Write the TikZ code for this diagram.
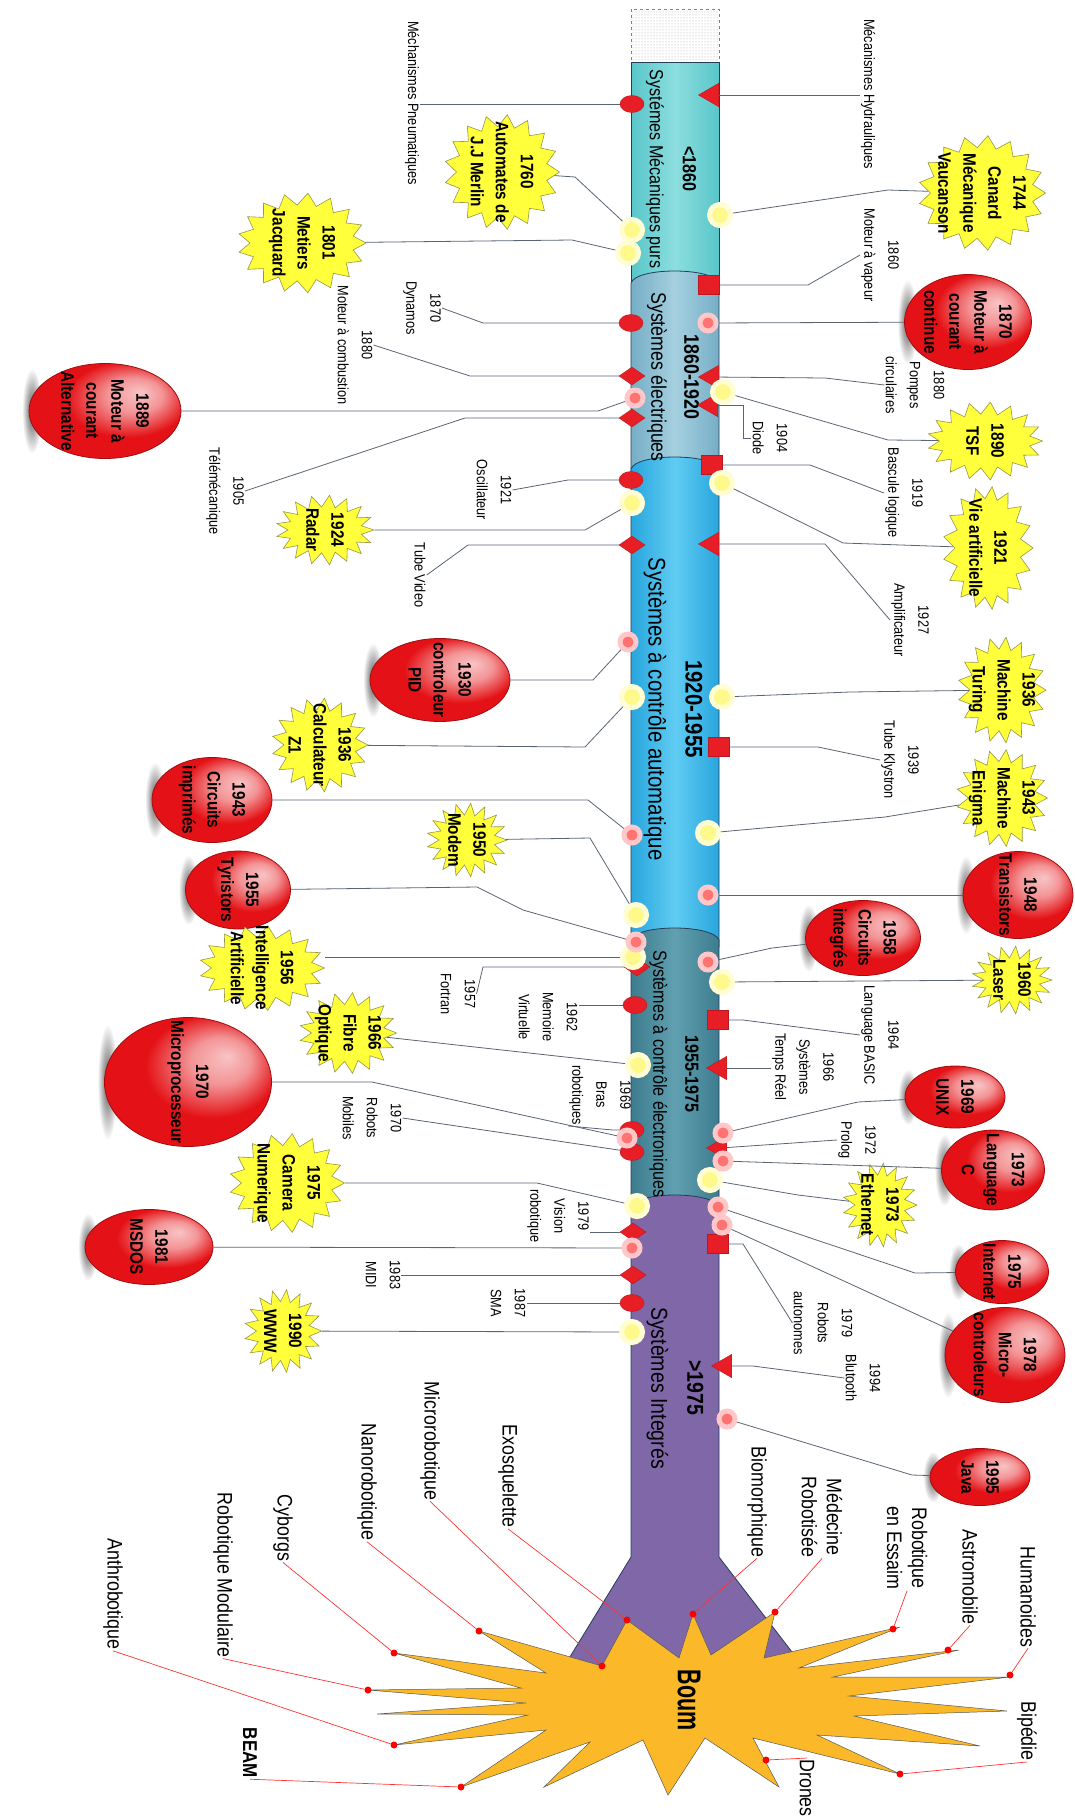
\documentclass[tikz,border=0pt]{standalone}
\usepackage{fontspec}
\setmainfont{Liberation Sans}[FakeStretch=0.85]
\newfontfamily\boumfont{Liberation Sans}[FakeStretch=0.65]
\usetikzlibrary{shapes.geometric,shapes.symbols,patterns,fadings}

\definecolor{mkred}{RGB}{232,30,38}
\definecolor{ballred}{RGB}{228,18,22}
\definecolor{staryel}{RGB}{255,255,60}
\definecolor{staredge}{RGB}{150,150,70}
\definecolor{boumor}{RGB}{251,184,41}
\definecolor{linkgray}{RGB}{90,100,115}
\definecolor{tubeedge}{RGB}{35,62,90}
\definecolor{purp}{RGB}{128,103,168}
\definecolor{secAl}{RGB}{88,198,202}
\definecolor{secAm}{RGB}{140,222,222}
\definecolor{secBl}{RGB}{118,174,198}
\definecolor{secBm}{RGB}{165,208,224}
\definecolor{secCl}{RGB}{40,166,222}
\definecolor{secCm}{RGB}{96,204,242}
\definecolor{secDl}{RGB}{60,124,142}
\definecolor{secDm}{RGB}{96,160,176}

\tikzfading[name=fuzzy, inner color=transparent!10, outer color=transparent!100]

\pgfdeclareradialshading{redball}{\pgfpoint{12bp}{10bp}}{color(0bp)=(ballred!25!white); color(9bp)=(ballred!45!white); color(20bp)=(ballred); color(42bp)=(ballred); color(50bp)=(ballred!75!black)}

% one slice of the tube, arc on top
\newcommand{\tubesec}[5]{
  \draw[tubesty, left color=#3, right color=#5, middle color=#4]
    (631,#1+7) .. controls (636,#1-9) and (713,#1-9) .. (719,#1+7) -- (719,#2+14) -- (631,#2+14) -- cycle;
}

% red ball with its shadow
\newcommand{\redball}[6]{
  \fill[black!75, path fading=fuzzy] (#2-#4/2+3,#3) ellipse ({10} and {#5*0.45});
  \node[ballsty, minimum width=#5pt, minimum height=#4pt] (#1) at (#2,#3) {};
  \node[balltxt] (#1t) at (#1) {#6};
}

% yellow star
\newcommand{\yelstar}[6]{
  \node[starsty, minimum width=#5pt, minimum height=#4pt] (#1) at (#2,#3) {};
  \node[startxt] (#1t) at (#1) {#6};
}

\begin{document}
\begin{tikzpicture}[
  x=1pt, y=-1pt,
  tubesty/.style={draw=tubeedge, line width=0.8pt},
  ballsty/.style={ellipse, rotate=-90, draw=ballred!70!black, line width=0.8pt, shading=redball, inner sep=0pt},
  balltxt/.style={rotate=-90, align=center, font=\fontsize{18}{25}\selectfont\bfseries, inner sep=0pt},
  starsty/.style={starburst, rotate=-90, starburst points=17, starburst point height=12pt, random starburst=0, fill=staryel, draw=staredge, line width=0.6pt, inner sep=0pt},
  startxt/.style={rotate=-90, align=center, font=\fontsize{18}{25}\selectfont\bfseries, inner sep=0pt},
  lbl/.style={rotate=-90, align=center, font=\fontsize{15}{24}\selectfont, inner sep=1pt},
  blbl/.style={rotate=-90, align=center, font=\fontsize{21}{25}\selectfont, inner sep=1pt},
  sectxt/.style={rotate=-90, align=center},
  mcirc/.style={ellipse, fill=mkred, draw=mkred!80!black, line width=0.4pt, minimum width=24pt, minimum height=17pt, inner sep=0pt},
  mdiam/.style={diamond, fill=mkred, draw=mkred!80!black, line width=0.4pt, minimum width=26pt, minimum height=18pt, inner sep=0pt},
  mtri/.style={regular polygon, regular polygon sides=3, shape border rotate=90, fill=mkred, draw=mkred!80!black, line width=0.4pt, minimum size=27pt, inner sep=0pt},
  msq/.style={rectangle, fill=mkred, draw=mkred!80!black, line width=0.4pt, minimum width=21pt, minimum height=19pt, inner sep=0pt},
  glowy/.style={circle, fill=yellow!45!white, draw=yellow!18!white, line width=5pt, minimum size=21pt, inner sep=0pt},
  glowp/.style={circle, fill=red!55!white, draw=red!22!white, line width=5pt, minimum size=16pt, inner sep=0pt},
  link/.style={draw=linkgray, line width=0.8pt},
  redlink/.style={draw=red!80, line width=0.7pt},
  tipdot/.style={circle, fill=red, minimum size=7pt, inner sep=0pt}]

\useasboundingbox (0,0) rectangle (1075,1818);

% the tube
\draw[gray, dashed, pattern=dots, pattern color=gray!70] (631,9) rectangle (719,62);
\draw[tubesty, left color=secAl, right color=secAl, middle color=secAm] (631,62) rectangle (719,290);
\tubesec{276}{462}{secBl}{secBm}{secBl}
\tubesec{462}{933}{secCl}{secCm}{secCl}
\tubesec{933}{1200}{secDl}{secDm}{secDl}
\draw[tubesty, fill=purp] (631,1207) .. controls (636,1191) and (713,1191) .. (719,1207)
  -- (719,1557) -- (802,1665) -- (565,1665) -- (631,1557) -- cycle;

% Boum
\filldraw[fill=boumor, draw=gray!70!black, line width=0.5pt]
  (479,1631) -- (602,1666) -- (627,1620) -- (679,1658) -- (693,1614) -- (711,1655)
  -- (775,1612) -- (764,1658) -- (900,1627) -- (799,1668) -- (959,1650) -- (833,1677)
  -- (1010,1677) -- (849,1696) -- (1007,1711) -- (854,1716) -- (980,1746) -- (817,1735)
  -- (900,1774) -- (753,1738) -- (779,1787) -- (705,1738) -- (668,1795) -- (643,1740)
  -- (544,1787) -- (590,1742) -- (461,1787) -- (546,1730) -- (394,1745) -- (528,1715)
  -- (377,1714) -- (526,1703) -- (368,1690) -- (521,1688) -- (394,1653) -- (546,1673)
  -- cycle;
\node[rotate=-90, font=\boumfont\fontsize{33}{35}\selectfont\bfseries] (boum) at (689,1700) {Boum};

% periods
\node[sectxt, font=\fontsize{19}{33}\selectfont] (sec1t) at (671,169) {{\bfseries <1860}\\Systémes Mécaniques purs};
\node[sectxt, font=\fontsize{21}{33}\selectfont] (sec2t) at (673,377) {{\bfseries 1860-1920}\\Systèmes électriques};
\node[sectxt, font=\fontsize{24}{37}\selectfont] (sec3t) at (673,709) {{\bfseries 1920-1955}\\Systèmes à contrôle automatique};
\node[sectxt, font=\fontsize{19}{32}\selectfont] (sec4t) at (674,1074) {{\bfseries 1955-1975}\\Systèmes à contrôle électroniques};
\node[sectxt, font=\fontsize{23}{36}\selectfont] (sec5t) at (675,1388) {{\bfseries >1975}\\Systèmes Integrés};

% markers on the tube
\node[mcirc] (mc-pneu) at (632,104) {};
\node[mcirc] (mc-dyn) at (631,323) {};
\node[mcirc] (mc-osc) at (631,480) {};
\node[mcirc] (mc-mem) at (635,1005) {};
\node[mcirc] (mc-bras) at (632,1130) {};
\node[mcirc] (mc-mob) at (632,1152) {};
\node[mcirc] (mc-sma) at (632,1303) {};
\node[mdiam] (md-comb) at (632,376) {};
\node[mdiam] (md-tele) at (632,418) {};
\node[mdiam] (md-tube) at (632,545) {};
\node[mdiam] (md-fort) at (637,967) {};
\node[mdiam] (md-vis) at (633,1232) {};
\node[mdiam] (md-midi) at (633,1275) {};
\node[mtri] (mt-hydr) at (712,95) {};
\node[mtri] (mt-pomp) at (712,377) {};
\node[mtri] (mt-diode) at (711,405) {};
\node[mtri] (mt-ampl) at (712,544) {};
\node[mtri] (mt-tr) at (720,1068) {};
\node[mtri] (mt-prolog) at (720,1148) {};
\node[mtri] (mt-blu) at (725,1366) {};
\node[msq] (mq-vap) at (709,285) {};
\node[msq] (mq-basc) at (712,465) {};
\node[msq] (mq-klys) at (719,747) {};
\node[msq] (mq-basic) at (718,1020) {};
\node[msq] (mq-auto) at (718,1244) {};
\node[glowy] (gy-1744) at (720,215) {};
\node[glowy] (gy-1760) at (632,230) {};
\node[glowy] (gy-1801) at (628,253) {};
\node[glowy] (gy-1890) at (723,392) {};
\node[glowy] (gy-1921) at (722,483) {};
\node[glowy] (gy-1924) at (632,503) {};
\node[glowy] (gy-1936c) at (632,697) {};
\node[glowy] (gy-1936t) at (722,697) {};
\node[glowy] (gy-1943e) at (708,833) {};
\node[glowy] (gy-1950) at (636,915) {};
\node[glowy] (gy-1956) at (633,957) {};
\node[glowy] (gy-1960) at (722,982) {};
\node[glowy] (gy-1966) at (638,1065) {};
\node[glowy] (gy-1973e) at (710,1180) {};
\node[glowy] (gy-1975) at (637,1206) {};
\node[glowy] (gy-1990) at (632,1332) {};
\node[glowp] (gp-1870) at (708,323) {};
\node[glowp] (gp-1889) at (635,398) {};
\node[glowp] (gp-1930) at (628,642) {};
\node[glowp] (gp-1943) at (632,835) {};
\node[glowp] (gp-1948) at (708,895) {};
\node[glowp] (gp-1955) at (636,942) {};
\node[glowp] (gp-1958) at (708,962) {};
\node[glowp] (gp-1969) at (723,1133) {};
\node[glowp] (gp-1970) at (627,1138) {};
\node[glowp] (gp-1973c) at (723,1161) {};
\node[glowp] (gp-1975) at (718,1207) {};
\node[glowp] (gp-1978) at (722,1225) {};
\node[glowp] (gp-1981) at (632,1248) {};
\node[glowp] (gp-1995) at (727,1419) {};

% red balls
\redball{b1870}{968}{322}{127}{95}{1870\\Moteur à\\courant\\continue}
\redball{b1889}{105}{411}{152}{95}{1889\\Moteur à\\courant\\Alternative}
\redball{b1930}{440}{680}{140}{83}{1930\\controleur\\PID}
\redball{b1943}{212}{800}{120}{85}{1943\\Circuits\\imprimés}
\redball{b1955}{238}{890}{105}{78}{1955\\Tyristors}
\redball{b1948}{1018}{895}{110}{87}{1948\\Transistors}
\redball{b1958}{863}{938}{115}{75}{1958\\Circuits\\integrés}
\redball{b1970}{188}{1082}{167}{129}{1970\\Microprocesseur}
\redball{b1981}{149}{1247}{128}{75}{1981\\MSDOS}
\redball{b1969}{955}{1097}{100}{62}{1969\\UNIX}
\redball{b1973c}{993}{1170}{103}{80}{1973\\Language\\C}
\redball{b1975}{1002}{1272}{93}{63}{1975\\Internet}
\redball{b1978}{1005}{1355}{120}{95}{1978\\Micro-\\controleurs}
\redball{b1995}{980}{1477}{100}{57}{1995\\Java}

% yellow stars
\yelstar{s1744}{982}{193}{127}{115}{1744\\Canard\\Mécanique\\Vaucanson}
\yelstar{s1760}{502}{172}{115}{115}{1760\\Automates de\\J.J Merlin}
\yelstar{s1801}{302}{243}{128}{100}{1801\\Metiers\\Jacquard}
\yelstar{s1890}{985}{441}{115}{78}{1890\\TSF}
\yelstar{s1921}{988}{548}{90}{123}{1921\\Vie artificielle}
\yelstar{s1924}{325}{530}{98}{70}{1924\\Radar}
\yelstar{s1936c}{320}{745}{96}{94}{1936\\Calculateur\\Z1}
\yelstar{s1936t}{1002}{690}{88}{106}{1936\\Machine\\Turing}
\yelstar{s1943e}{1002}{798}{91}{97}{1943\\Machine\\Enigma}
\yelstar{s1950}{467}{840}{80}{74}{1950\\Modem}
\yelstar{s1956}{262}{968}{125}{85}{1956\\Intelligence\\Artificielle}
\yelstar{s1960}{1012}{980}{80}{68}{1960\\Laser}
\yelstar{s1966}{348}{1033}{97}{81}{1966\\Fibre\\Optique}
\yelstar{s1973e}{880}{1205}{74}{84}{1973\\Ethernet}
\yelstar{s1975}{287}{1183}{115}{99}{1975\\Camera\\Numerique}
\yelstar{s1990}{283}{1331}{77}{83}{1990\\WWW}

% small labels
\node[lbl] (lpneu) at (412,103) {Méchanismes Pneumatiques};
\node[lbl] (lhydr) at (868,94) {Mécanismes Hydrauliques};
\node[lbl] (lvap) at (880,255) {1860\\Moteur à vapeur};
\node[lbl] (ldyn) at (422,308) {1870\\Dynamos};
\node[lbl] (lcomb) at (355,345) {1880\\Moteur à combustion};
\node[lbl] (lpomp) at (915,385) {1880\\Pompes\\circulaires};
\node[lbl] (ldiode) at (770,438) {1904\\Diode};
\node[lbl] (ltele) at (225,491) {1905\\Télémécanique};
\node[lbl] (lbasc) at (904,493) {1919\\Bascule logique};
\node[lbl] (losc) at (494,490) {1921\\Oscillateur};
\node[lbl] (ltube) at (420,575) {Tube Video};
\node[lbl] (lampl) at (910,620) {1927\\Amplificateur};
\node[lbl] (lklys) at (900,760) {1939\\Tube Klystron};
\node[lbl] (lfort) at (458,994) {1957\\Fortran};
\node[lbl] (lmem) at (548,1017) {1962\\Memoire\\Virtuelle};
\node[lbl] (lbasic) at (880,1035) {1964\\Language BASIC};
\node[lbl] (ltr) at (803,1067) {1966\\Systèmes\\Temps Réel};
\node[lbl] (lbras) at (600,1095) {1969\\Bras\\robotiques};
\node[lbl] (lmob) at (372,1118) {1970\\Robots\\Mobiles};
\node[lbl] (lprolog) at (857,1140) {1972\\Prolog};
\node[lbl] (lvis) at (558,1216) {1979\\Vision\\robotique};
\node[lbl] (lmidi) at (383,1275) {1983\\MIDI};
\node[lbl] (lsma) at (508,1303) {1987\\SMA};
\node[lbl] (lauto) at (823,1323) {1979\\Robots\\autonomes};
\node[lbl] (lblu) at (863,1378) {1994\\Blutooth};

% links to the tube
\draw[link] (mc-pneu) -- (mc-pneu -| lpneu.north);
\draw[link] (mt-hydr) -- (mt-hydr -| lhydr.south);
\draw[link] (gy-1744) -- (888,190) -- (s1744);
\draw[link] (gy-1760) -- (575,177) -- (s1760);
\draw[link] (gy-1801) -- (572,240) -- (s1801);
\draw[link] (mq-vap) -- (808,285) -- (lvap.south);
\draw[link] (mc-dyn) -- (483,323) -- (ldyn.north);
\draw[link] (gp-1870) -- (b1870);
\draw[link] (md-comb) -- (470,376) -- (lcomb.north);
\draw[link] (mt-pomp) -- (825,378) -- (lpomp.south);
\draw[link] (gy-1890) -- (888,440) -- (s1890);
\draw[link] (gp-1889) -- (598,411) -- (b1889);
\draw[link] (md-tele) -- (465,418) -- (ltele.north);
\draw[link] (mt-diode) -- (743,405) |- (ldiode.south);
\draw[link] (mq-basc) -- (810,465) -- (lbasc.south);
\draw[link] (mc-osc) -- (568,480) -- (losc.north);
\draw[link] (gy-1921) -- (843,543) -- (s1921);
\draw[link] (gy-1924) -- (585,530) -- (s1924);
\draw[link] (md-tube) -- (468,545) -- (ltube.north);
\draw[link] (mt-ampl) -- (825,544) -- (lampl.south);
\draw[link] (gp-1930) -- (593,680) -- (b1930);
\draw[link] (gy-1936c) -- (585,747) -- (s1936c);
\draw[link] (gy-1936t) -- (850,692) -- (s1936t);
\draw[link] (mq-klys) -- (818,747) -- (lklys.south);
\draw[link] (gp-1943) -- (588,800) -- (b1943);
\draw[link] (gy-1943e) -- (885,817) -- (s1943e);
\draw[link] (gy-1950) -- (590,838) -- (s1950);
\draw[link] (gp-1955) -- (523,910) -- (477,887) -- (b1955);
\draw[link] (gp-1948) -- (b1948);
\draw[link] (gy-1956) -- (gy-1956 -| s1956.north);
\draw[link] (md-fort) -- (483,967) -- (lfort.north);
\draw[link] (mc-mem) -- (mc-mem -| lmem.north);
\draw[link] (gy-1966) -- (s1966);
\draw[link] (mc-bras) -- (613,1130) -- (lbras.south east);
\draw[link] (gp-1970) -- (372,1082) -- (b1970);
\draw[link] (mc-mob) -- (lmob.north);
\draw[link] (gy-1975) -- (537,1183) -- (s1975);
\draw[link] (md-vis) -- (md-vis -| lvis.north);
\draw[link] (gp-1981) -- (b1981);
\draw[link] (md-midi) -- (md-midi -| lmidi.north);
\draw[link] (mc-sma) -- (mc-sma -| lsma.north);
\draw[link] (gy-1990) -- (s1990);
\draw[link] (gp-1958) -- (772,948) -- (b1958);
\draw[link] (gy-1960) -- (s1960);
\draw[link] (mq-basic) -- (743,1020) -- (lbasic.south);
\draw[link] (mt-tr) -- (mt-tr -| ltr.south);
\draw[link] (gp-1969) -- (858,1102) -- (b1969);
\draw[link] (mt-prolog) -- (lprolog.south);
\draw[link] (gp-1973c) -- (b1973c);
\draw[link] (gy-1973e) -- (798,1195) -- (s1973e);
\draw[link] (gp-1975) -- (915,1273) -- (b1975);
\draw[link] (gp-1978) -- (b1978);
\draw[link] (mq-auto) -- (743,1244) -- (lauto.south);
\draw[link] (mt-blu) -- (753,1366) -- (lblu.south);
\draw[link] (gp-1995) -- (912,1475) -- (b1995);

% what comes after the boum
\node[blbl] (l-exo) at (508,1476) {Exosquelette};
\node[blbl] (l-micro) at (430,1441) {Microrobotique};
\node[blbl] (l-nano) at (367,1482) {Nanorobotique};
\node[blbl] (l-cyb) at (283,1528) {Cyborgs};
\node[blbl] (l-mod) at (223,1575) {Robotique Modulaire};
\node[blbl] (l-anth) at (113,1594) {Anthrobotique};
\node[blbl, font=\fontsize{20}{25}\selectfont\bfseries] (l-beam) at (250,1753) {BEAM};
\node[blbl] (l-bio) at (757,1502) {Biomorphique};
\node[blbl] (l-med) at (822,1517) {Médecine\\Robotisée};
\node[blbl] (l-ess) at (907,1548) {Robotique\\en Essaim};
\node[blbl] (l-astro) at (970,1577) {Astromobile};
\node[blbl] (l-hum) at (1028,1597) {Humanoides};
\node[blbl] (l-bip) at (1027,1731) {Bipédie};
\node[blbl] (l-dro) at (807,1788) {Drones};

\node[tipdot] (d-exo) at (627,1620) {};
\node[tipdot] (d-micro) at (602,1666) {};
\node[tipdot] (d-nano) at (479,1631) {};
\node[tipdot] (d-cyb) at (394,1653) {};
\node[tipdot] (d-mod) at (368,1690) {};
\node[tipdot] (d-anth) at (394,1745) {};
\node[tipdot] (d-beam) at (461,1787) {};
\node[tipdot] (d-bio) at (693,1614) {};
\node[tipdot] (d-med) at (775,1612) {};
\node[tipdot] (d-ess) at (893,1629) {};
\node[tipdot] (d-astro) at (948,1650) {};
\node[tipdot] (d-hum) at (1010,1675) {};
\node[tipdot] (d-bip) at (900,1774) {};
\node[tipdot] (d-dro) at (766,1760) {};

\draw[redlink] (l-exo.east) -- (d-exo);
\draw[redlink] (l-micro.east) -- (d-micro);
\draw[redlink] (l-nano.east) -- (d-nano);
\draw[redlink] (l-cyb.east) -- (d-cyb);
\draw[redlink] (l-mod.east) -- (d-mod);
\draw[redlink] (l-anth.east) -- (d-anth);
\draw[redlink] (l-beam.east) -- (d-beam);
\draw[redlink] (l-bio.east) -- (d-bio);
\draw[redlink] (l-med.east) -- (d-med);
\draw[redlink] (l-ess.east) -- (d-ess);
\draw[redlink] (l-astro.east) -- (d-astro);
\draw[redlink] (l-hum.east) -- (d-hum);
\draw[redlink] (l-bip.east) -- (d-bip);
\draw[redlink] (l-dro.west) -- (d-dro);

\end{tikzpicture}
\end{document}
